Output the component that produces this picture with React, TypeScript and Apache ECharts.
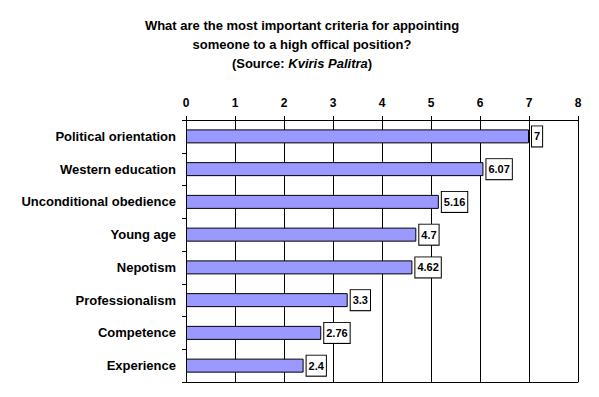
import React, { useEffect, useRef } from "react";
import * as echarts from "echarts";

const categories = [
  "Political orientation",
  "Western education",
  "Unconditional obedience",
  "Young age",
  "Nepotism",
  "Professionalism",
  "Competence",
  "Experience",
];
const values = [7, 6.07, 5.16, 4.7, 4.62, 3.3, 2.76, 2.4];
const xTicks = { min: 0, max: 8, interval: 1 };

const FONT = "Arial, 'Liberation Sans', sans-serif";

export default function App() {
  const ref = useRef<HTMLDivElement>(null);
  useEffect(() => {
    if (!ref.current) return;
    const chart = echarts.init(ref.current, null, { renderer: "svg" });
    chart.setOption({
      animation: false,
      backgroundColor: "#ffffff",
      title: {
        text:
          "What are the most important criteria for appointing\nsomeone to a high offical position?\n(Source: {i|Kviris Palitra})",
        left: 297,
        textAlign: "center",
        top: 11,
        textStyle: {
          fontFamily: FONT,
          fontSize: 13,
          fontWeight: "bold",
          color: "#000",
          lineHeight: 19,
          rich: {
            i: {
              fontFamily: FONT,
              fontSize: 13,
              fontWeight: "bold",
              fontStyle: "italic",
              color: "#000",
              lineHeight: 19,
            },
          },
        },
      },
      grid: { left: 186, right: 21, top: 120, bottom: 15 },
      xAxis: [
        {
          type: "value",
          position: "top",
          min: xTicks.min,
          max: xTicks.max,
          interval: xTicks.interval,
          axisLine: { show: true, lineStyle: { color: "#000", width: 1 } },
          axisTick: { show: true, length: 4, lineStyle: { color: "#000" } },
          axisLabel: {
            fontFamily: FONT,
            fontSize: 12,
            fontWeight: "bold",
            color: "#000",
            margin: 11,
          },
          splitLine: { show: true, lineStyle: { color: "#000", width: 1 } },
        },
        {
          type: "value",
          position: "bottom",
          min: xTicks.min,
          max: xTicks.max,
          interval: xTicks.interval,
          axisLine: { show: true, lineStyle: { color: "#000", width: 1 } },
          axisTick: { show: false },
          axisLabel: { show: false },
          splitLine: { show: false },
        },
      ],
      yAxis: {
        type: "category",
        data: categories,
        inverse: true,
        axisLine: { show: true, lineStyle: { color: "#000", width: 1 } },
        axisTick: { show: true, length: 4, alignWithLabel: false, lineStyle: { color: "#000" } },
        axisLabel: {
          fontFamily: FONT,
          fontSize: 13,
          fontWeight: "bold",
          color: "#000",
          margin: 10,
        },
        splitLine: { show: false },
      },
      series: [
        {
          type: "bar",
          xAxisIndex: 0,
          data: values,
          barWidth: 14,
          itemStyle: { color: "#9999ff", borderColor: "#000", borderWidth: 1 },
          label: {
            show: true,
            position: "right",
            distance: 3,
            fontFamily: FONT,
            fontSize: 11,
            fontWeight: "bold",
            color: "#000",
            backgroundColor: "#fff",
            borderColor: "#000",
            borderWidth: 1,
            padding: [5, 2, 4, 2],
          },
        },
      ],
    });
    return () => chart.dispose();
  }, []);
  return <div ref={ref} style={{ width: 599, height: 397, position: "absolute", left: 0, top: 0 }} />;
}
